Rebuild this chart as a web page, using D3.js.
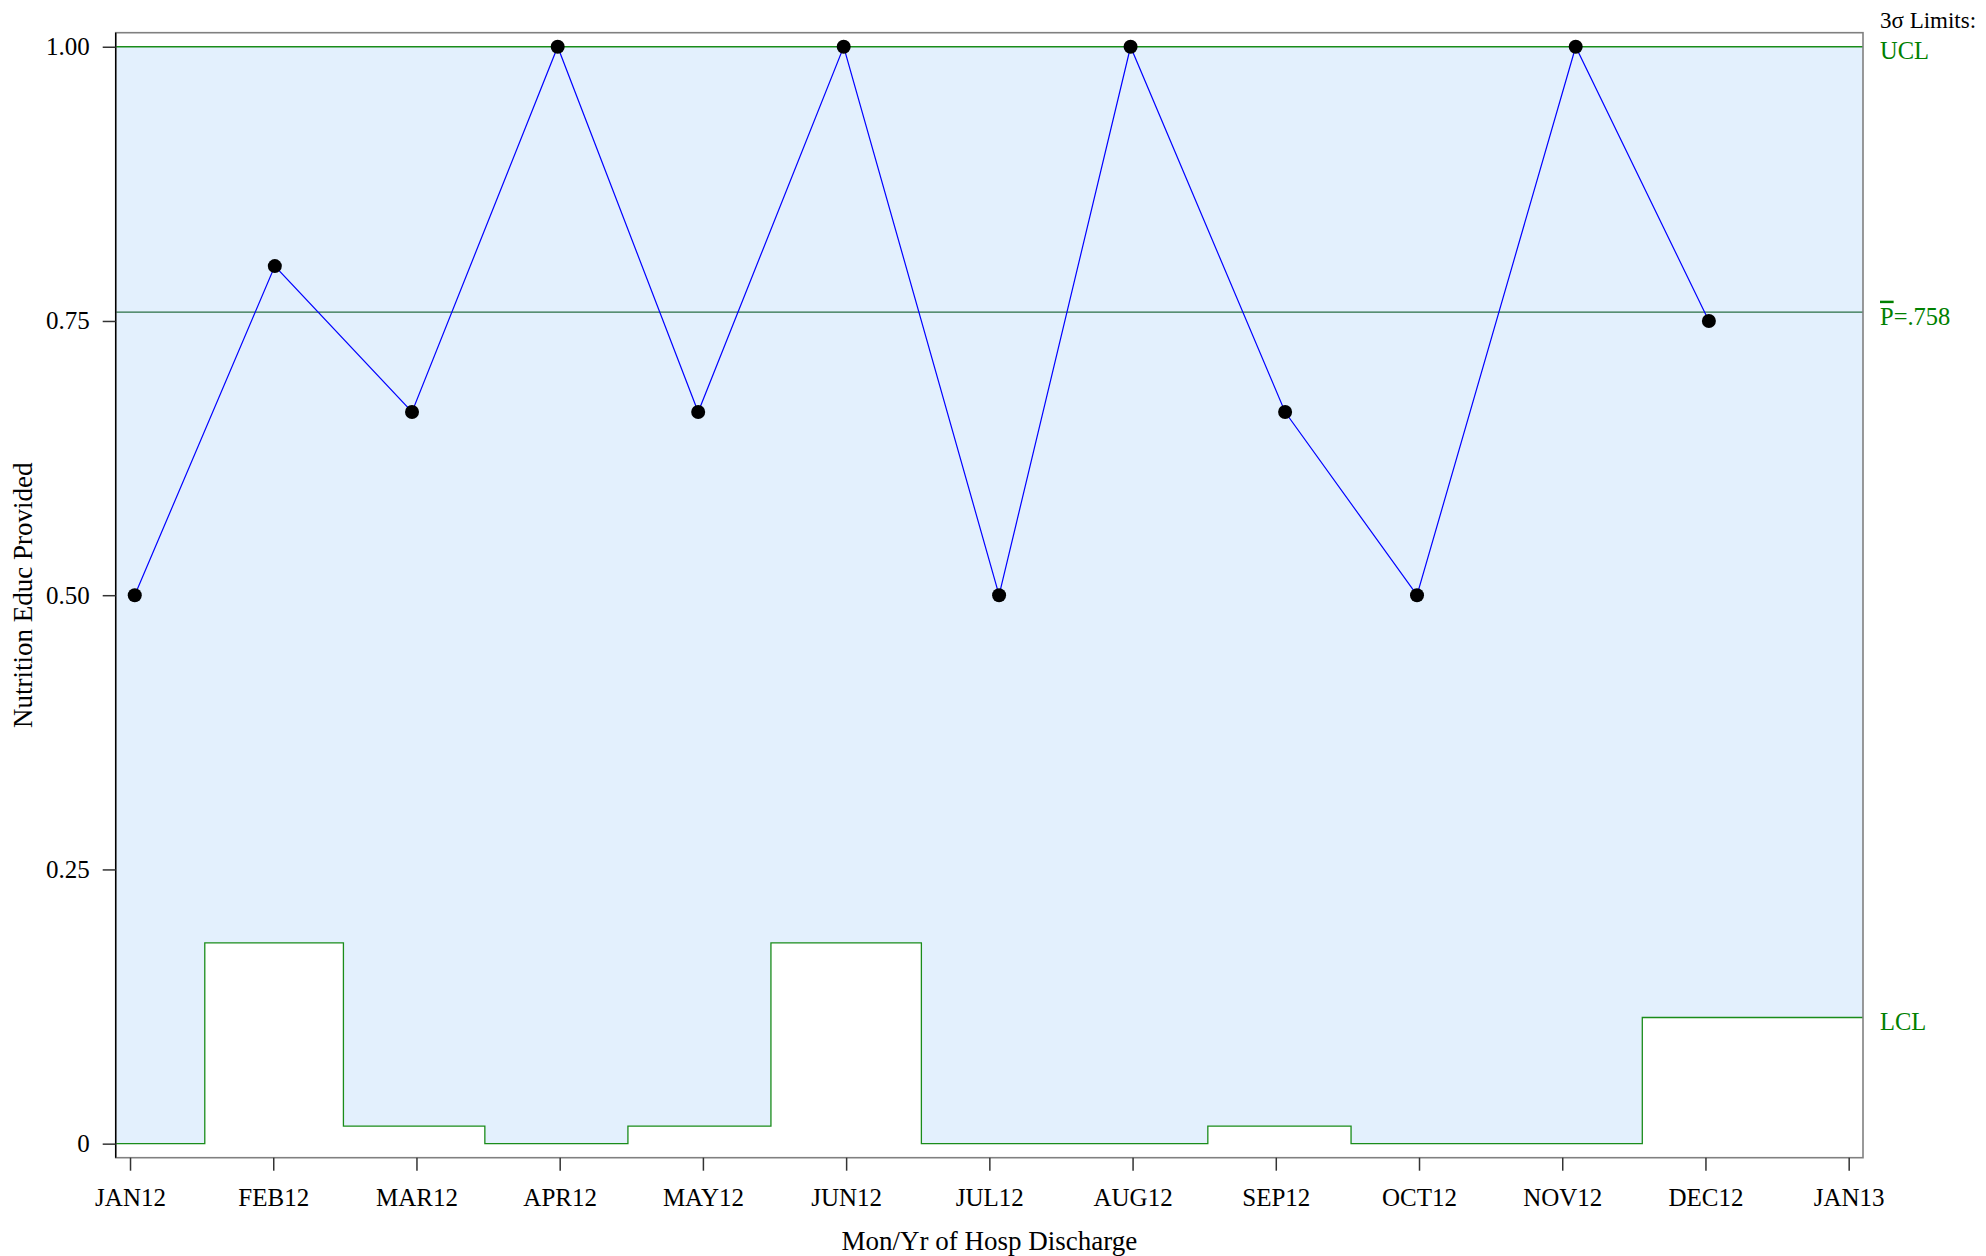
<!DOCTYPE html>
<html>
<head>
<meta charset="utf-8">
<script src="https://cdn.jsdelivr.net/npm/d3@7"></script>
<style>
  body { margin: 0; background: #fff; }
  text { font-family: "Liberation Serif", "Times New Roman", serif; }
</style>
</head>
<body>
<div id="chart"></div>
<script>
const WIDTH = 1986;
const HEIGHT = 1256;

// plot box, in pixels
const box = {left: 115.7, right: 1863, top: 32.7, bottom: 1157.7};

// month tick labels
const months = ['JAN12', 'FEB12', 'MAR12', 'APR12', 'MAY12', 'JUN12', 'JUL12',
                'AUG12', 'SEP12', 'OCT12', 'NOV12', 'DEC12', 'JAN13'];

// where each month's point sits, in months from JAN12
const pointPos = [0.033, 1.011, 1.969, 2.986, 3.967, 4.983, 6.068, 6.986, 8.065, 8.986, 10.094, 11.024];
// proportion with nutrition education provided
const proportion = [0.5, 0.8, 0.667, 1.0, 0.667, 1.0, 0.5, 1.0, 0.667, 0.5, 1.0, 0.75];
// control limits for each month
const lcl = [0, 0.183, 0.016, 0, 0.016, 0.183, 0, 0, 0.016, 0, 0, 0.115];
const ucl = [1, 1, 1, 1, 1, 1, 1, 1, 1, 1, 1, 1];
const pBar = 0.758;

const yTicks = [0, 0.25, 0.5, 0.75, 1.0];
const yTickLabels = ['0', '0.25', '0.50', '0.75', '1.00'];

const svg = d3.select('#chart')
    .append('svg')
        .attr('width', WIDTH)
        .attr('height', HEIGHT);

const x = d3.scaleLinear()
    .domain([-0.1, 12.1])
    .range([box.left, box.right]);

const y = d3.scaleLinear()
    .domain([-0.0128, 1.0128])
    .range([box.bottom, box.top]);

// step boundaries halfway between points
const xDom = x.domain();
const bounds = [xDom[0]];
for (let i = 1; i < pointPos.length; i++) bounds.push((pointPos[i - 1] + pointPos[i]) / 2);
bounds.push(xDom[1]);

const steps = bounds.map((b, i) => {
    const k = Math.min(i, pointPos.length - 1);
    return {x: b, lo: lcl[k], hi: ucl[k]};
});

// limits band
svg.append('path')
    .datum(steps)
    .attr('fill', '#e3f0fd')
    .attr('d', d3.area()
        .curve(d3.curveStepAfter)
        .x(d => x(d.x))
        .y0(d => y(d.lo))
        .y1(d => y(d.hi)));

const lineStep = d3.line().curve(d3.curveStepAfter).x(d => x(d.x));

svg.append('path')
    .datum(steps)
    .attr('fill', 'none')
    .attr('stroke', '#1a8c1a')
    .attr('stroke-width', 1.3)
    .attr('d', lineStep.y(d => y(d.lo)));

svg.append('path')
    .datum(steps)
    .attr('fill', 'none')
    .attr('stroke', '#1a8c1a')
    .attr('stroke-width', 1.3)
    .attr('d', lineStep.y(d => y(d.hi)));

// center line
svg.append('line')
    .attr('x1', box.left)
    .attr('x2', box.right)
    .attr('y1', y(pBar))
    .attr('y2', y(pBar))
    .attr('stroke', '#2a6f45')
    .attr('stroke-width', 1.2);

// frame
svg.append('rect')
    .attr('x', box.left)
    .attr('y', box.top)
    .attr('width', box.right - box.left)
    .attr('height', box.bottom - box.top)
    .attr('fill', 'none')
    .attr('stroke', '#808080')
    .attr('stroke-width', 1.6);

svg.append('line')
    .attr('x1', box.left).attr('x2', box.left)
    .attr('y1', box.top).attr('y2', box.bottom)
    .attr('stroke', '#000')
    .attr('stroke-width', 1.4);

// axes
const yAxis = d3.axisLeft(y)
    .tickValues(yTicks)
    .tickFormat((d, i) => yTickLabels[i])
    .tickSize(13)
    .tickPadding(13);

const gy = svg.append('g')
    .attr('transform', `translate(${box.left},0)`)
    .call(yAxis);

const xAxis = d3.axisBottom(x)
    .tickValues(d3.range(months.length))
    .tickFormat((d, i) => months[i])
    .tickSize(13)
    .tickPadding(18);

const gx = svg.append('g')
    .attr('transform', `translate(0,${box.bottom})`)
    .call(xAxis);

[gx, gy].forEach(g => {
    g.select('.domain').remove();
    g.selectAll('.tick line').attr('stroke', '#333').attr('stroke-width', 1.5);
    g.selectAll('.tick text')
        .attr('fill', '#000')
        .style('font-size', '25px')
        .style('font-family', '"Liberation Serif", "Times New Roman", serif');
});

// data line and points
const pts = pointPos.map((p, i) => ({x: p, v: proportion[i]}));

svg.append('path')
    .datum(pts)
    .attr('fill', 'none')
    .attr('stroke', '#0000ff')
    .attr('stroke-width', 1.2)
    .attr('d', d3.line().x(d => x(d.x)).y(d => y(d.v)));

svg.selectAll('.pt')
    .data(pts)
    .enter()
    .append('circle')
        .attr('class', 'pt')
        .attr('cx', d => x(d.x))
        .attr('cy', d => y(d.v))
        .attr('r', 7)
        .attr('fill', '#000');

// axis titles
svg.append('text')
    .attr('x', (box.left + box.right) / 2)
    .attr('y', 1250)
    .attr('text-anchor', 'middle')
    .style('font-size', '27px')
    .text('Mon/Yr of Hosp Discharge');

svg.append('text')
    .attr('transform', `translate(32,${(box.top + box.bottom) / 2}) rotate(-90)`)
    .attr('text-anchor', 'middle')
    .style('font-size', '27px')
    .text('Nutrition Educ Provided');

// limit labels on the right
const labX = box.right + 17;
svg.append('text')
    .attr('x', labX)
    .attr('y', 28)
    .style('font-size', '23px')
    .attr('fill', '#000')
    .text('3σ Limits:');

svg.append('text')
    .attr('x', labX)
    .attr('y', y(ucl[ucl.length - 1]) + 12.5)
    .style('font-size', '24.5px')
    .attr('fill', '#008000')
    .text('UCL');

const pLab = svg.append('text')
    .attr('x', labX)
    .attr('y', y(pBar) + 12.5)
    .style('font-size', '24.5px')
    .attr('fill', '#008000');
pLab.append('tspan').style('text-decoration', 'overline').text('P');
pLab.append('tspan').text('=.758');

svg.append('text')
    .attr('x', labX)
    .attr('y', y(lcl[lcl.length - 1]) + 12.5)
    .style('font-size', '24.5px')
    .attr('fill', '#008000')
    .text('LCL');
</script>
</body>
</html>
